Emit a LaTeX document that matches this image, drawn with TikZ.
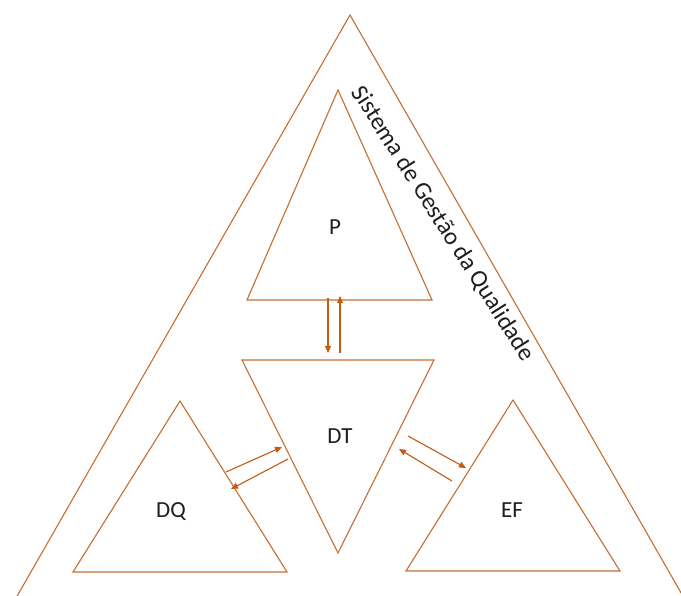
\documentclass[tikz,border=0pt]{standalone}
\usepackage{fontspec}
\setmainfont{Carlito}
\usetikzlibrary{arrows.meta}
\definecolor{lineor}{RGB}{197,110,50}
\definecolor{arrowor}{RGB}{197,90,17}
\definecolor{txt}{RGB}{30,30,30}
\tikzset{
  tri/.style={draw=lineor, line width=1.1pt, line join=miter},
  flow/.style={draw=arrowor, line width=1.1pt, -{Triangle[length=7pt,width=6pt]}},
  lbl/.style={text=txt, font=\fontsize{23}{25}\selectfont, inner sep=0pt},
  sgq/.style={text=txt, font=\fontsize{24.5}{26}\selectfont, inner sep=0pt}
}
\begin{document}
\begin{tikzpicture}[x=1pt,y=-1pt]
\useasboundingbox (0,0) rectangle (681,596);
\fill[white] (0,0) rectangle (681,596);
\begin{scope}
\clip (0,0) rectangle (681,596);
% outer triangle
\coordinate (O1) at (350,15);
\coordinate (O2) at (16,598);
\coordinate (O3) at (684,598);
\draw[tri] (O2) -- (O1) -- (O3);
\end{scope}
% P
\draw[tri] (338,90) -- (432,300) -- (247,300) -- cycle;
% DT
\draw[tri] (242,360) -- (434,360) -- (338,553) -- cycle;
% DQ
\draw[tri] (180,401) -- (287,572) -- (73,572) -- cycle;
% EF
\draw[tri] (513,400) -- (620,571) -- (406,571) -- cycle;
% labels
\node[lbl] (P) at (335,227) {P};
\node[lbl] (DT) at (340,436) {DT};
\node[lbl] (DQ) at (171,512) {DQ};
\node[lbl] (EF) at (512,510) {EF};
\node[sgq, rotate=-57.5] (SGQ) at (443,224) {Sistema de Gestão da Qualidade};
% arrow endpoints
\coordinate (a1s) at (328,298); \coordinate (a1e) at (328,353);
\coordinate (a2s) at (340,353); \coordinate (a2e) at (340,296);
\coordinate (b1s) at (226,472); \coordinate (b1e) at (282,447);
\coordinate (b2s) at (288,459); \coordinate (b2e) at (231,489);
\coordinate (c1s) at (408,436); \coordinate (c1e) at (466,468);
\coordinate (c2s) at (452,481); \coordinate (c2e) at (399,449);
\draw[flow] (a1s) -- (a1e);
\draw[flow] (a2s) -- (a2e);
\draw[flow] (b1s) -- (b1e);
\draw[flow] (b2s) -- (b2e);
\draw[flow] (c1s) -- (c1e);
\draw[flow] (c2s) -- (c2e);
\end{tikzpicture}
\end{document}
